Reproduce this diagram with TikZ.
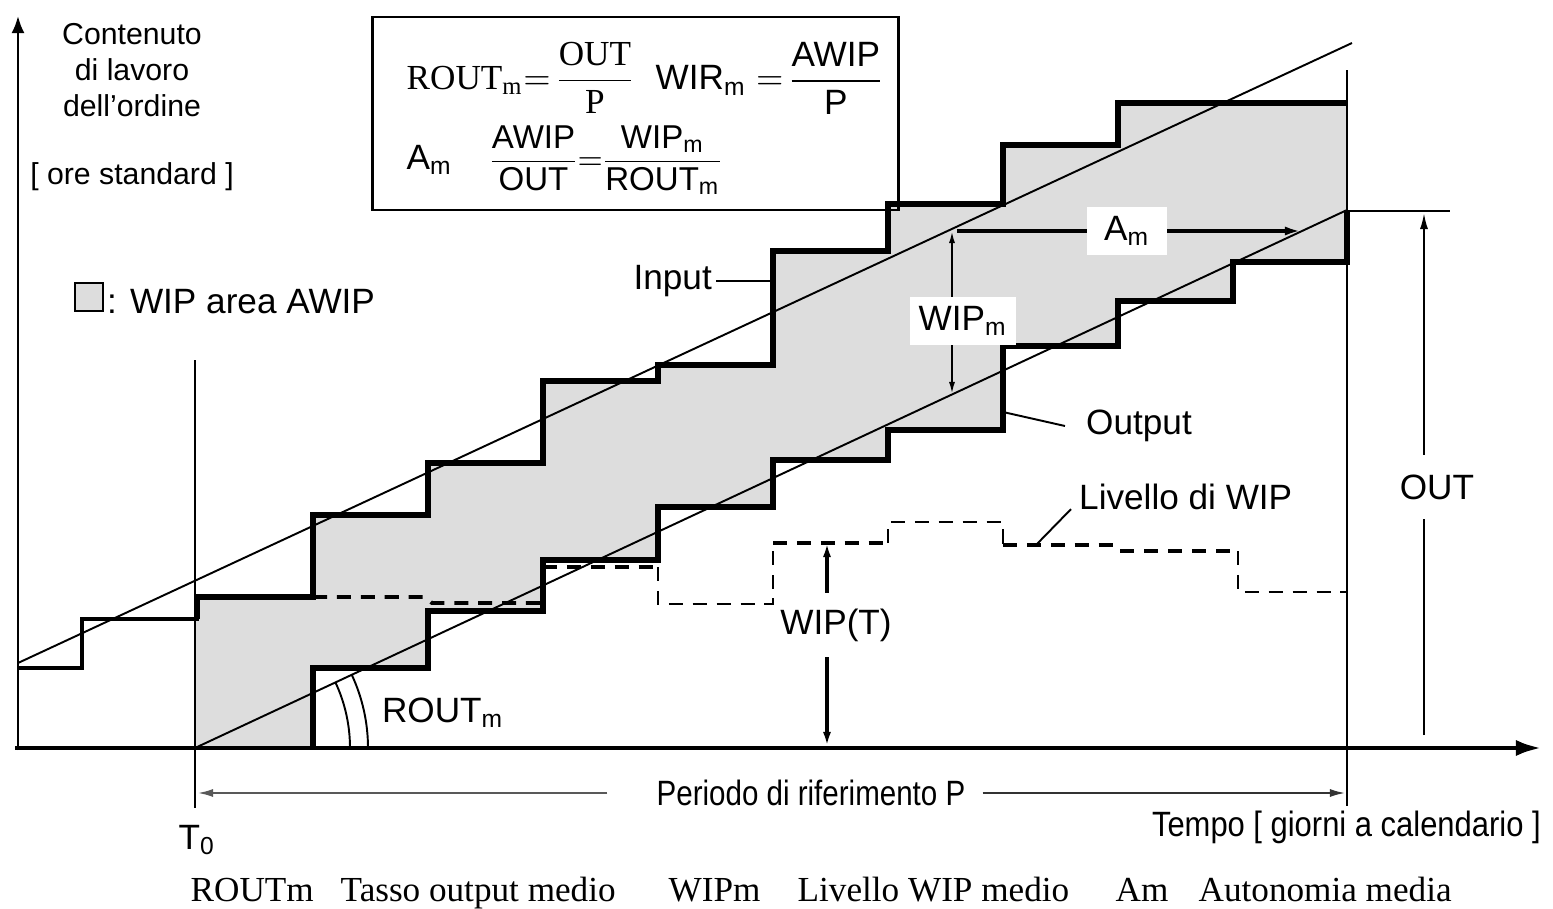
\documentclass[tikz,border=0pt]{standalone}
\usepackage{fontspec}
\usepackage{amsmath}
\setmainfont{Liberation Sans}
\newfontfamily\seriffont{Liberation Serif}
\newfontfamily\narrowfont[FakeStretch=0.84]{Liberation Sans}
\newfontfamily\narrowfontb[FakeStretch=0.88]{Liberation Sans}
\usetikzlibrary{arrows.meta}
\definecolor{wipgray}{RGB}{221,221,221}
\begin{document}
\begin{tikzpicture}[x=0.01cm,y=-0.01cm,
  stair/.style={line width=1.7pt, line join=miter},
  thinline/.style={line width=0.55pt},
  lbl/.style={font=\fontsize{10}{12}\selectfont, inner sep=1pt},
  ylbl/.style={font=\fontsize{8.6}{10.3}\selectfont, inner sep=1pt},
  narrowlbl/.style={font=\narrowfont\fontsize{10}{12}\selectfont, inner sep=1pt},
  seriflbl/.style={font=\seriffont\fontsize{10}{12}\selectfont, inner sep=0pt, anchor=base west},
  dthick/.style={line width=1.1pt, dash pattern=on 4pt off 2.8pt},
  dthin/.style={line width=0.6pt, dash pattern=on 4pt off 2.8pt},
  bothtip/.style={{Latex[length=0.14cm,width=0.08cm]}-{Latex[length=0.14cm,width=0.08cm]}}
]
\useasboundingbox (0,0) rectangle (1553,909);

% WIP area
\fill[wipgray] (195,748) -- (313,748) -- (313,668) -- (428,668) -- (428,611) -- (543,611) -- (543,560) -- (658,560) -- (658,507) -- (773,507) -- (773,460) -- (888,460) -- (888,430) -- (1003,430) -- (1003,346) -- (1118,346) -- (1118,301) -- (1233,301) -- (1233,262) -- (1347,262) -- (1347,103) -- (1118,103) -- (1118,145) -- (1003,145) -- (1003,204) -- (888,204) -- (888,251) -- (773,251) -- (773,365) -- (658,365) -- (658,381) -- (543,381) -- (543,463) -- (428,463) -- (428,515) -- (313,515) -- (313,597) -- (195,597) -- cycle;

% formula box
\node[draw, line width=0.8pt, minimum width=5.25cm, minimum height=1.93cm, inner sep=0pt] (fbox) at (635.5,113.5) {};
\node[anchor=west, font=\seriffont\fontsize{10}{12}\selectfont, inner sep=0pt] (f1) at (406,78) {ROUT\textsubscript{m}$=\!\dfrac{\text{OUT}}{\text{P}}$};
\node[anchor=west, lbl, inner sep=0pt] (f2) at (655,78) {WIR\textsubscript{m}$\;=\!\dfrac{\text{AWIP}}{\text{P}}$};
\node[anchor=west, lbl, inner sep=0pt] (f3) at (406,160) {A\textsubscript{m}};
\node[anchor=west, font=\fontsize{9.4}{11}\selectfont, inner sep=0pt] (f4) at (487,160) {$\dfrac{\text{AWIP}}{\text{OUT}}\!\!=\!\!\dfrac{\text{WIP\textsubscript{m}}}{\text{ROUT\textsubscript{m}}}$};

% mean lines
\draw[thinline] (18,663) -- (1352,43);
\draw[thinline] (195,748) -- (1347,210);

% vertical reference lines
\draw[thinline] (195,360) -- (195,808);
\draw[thinline] (1347,70) -- (1347,806);
\draw[thinline] (1347,211) -- (1450,211);

% WIP level (dashed)
\draw[dthick] (313,597) -- (425,597) -- (432,603) -- (543,603);
\draw[dthick] (543,567) -- (658,567);
\draw[dthin] (658,567) -- (658,604) -- (773,604) -- (773,543);
\draw[dthick] (773,543) -- (888,543);
\draw[dthin] (888,543) -- (888,522) -- (1003,522) -- (1003,545);
\draw[dthick] (1003,545) -- (1113,545) -- (1120,551) -- (1238,551);
\draw[dthin] (1238,551) -- (1238,592) -- (1347,592);

% input staircase
\draw[stair, line width=1.3pt] (18,668) -- (82,668) -- (82,619) -- (197,619) -- (197,605);
\draw[stair] (197,619) -- (197,597) -- (313,597) -- (313,515) -- (428,515) -- (428,463) -- (543,463) -- (543,381) -- (658,381) -- (658,365) -- (773,365) -- (773,251) -- (888,251) -- (888,204) -- (1003,204) -- (1003,145) -- (1118,145) -- (1118,103) -- (1347,103);
% output staircase
\draw[stair] (313,748) -- (313,668) -- (428,668) -- (428,611) -- (543,611) -- (543,560) -- (658,560) -- (658,507) -- (773,507) -- (773,460) -- (888,460) -- (888,430) -- (1003,430) -- (1003,346) -- (1118,346) -- (1118,301) -- (1233,301) -- (1233,262) -- (1347,262) -- (1347,211);

% axes
\draw[line width=0.7pt, -{Latex[length=0.17cm,width=0.13cm]}] (18,750) -- (18,16);
\draw[line width=1.4pt, -{Latex[length=0.26cm,width=0.16cm]}] (15,748) -- (1542,748);

% ROUT angle arcs
\draw[thinline] (350,748) arc[start angle=0, end angle=25, radius=1.55cm];
\draw[thinline] (368,748) arc[start angle=0, end angle=25, radius=1.73cm];
\node[lbl] (rout) at (443,713) {ROUT\textsubscript{m}};

% y axis label
\node[ylbl, align=center] (ylab) at (132,70) {Contenuto\\di lavoro\\dell'ordine};
\node[ylbl] (ore) at (132,177) {[ ore standard ]};

% legend
\node[draw, fill=wipgray, line width=0.6pt, minimum size=0.28cm, inner sep=0pt] (legsq) at (89,297) {};
\node[lbl, anchor=west] (legtxt) at (103,302) {: WIP area AWIP};

% Input / Output / Livello labels
\node[lbl, anchor=east] (inp) at (716,281) {Input};
\coordinate (inpT) at (773,281);
\draw[thinline] (inp.east) -- (inpT);
\node[lbl, anchor=west] (outp) at (1082,426) {Output};
\coordinate (outT) at (1003,412);
\draw[thinline] (outT) -- ([xshift=-0.17cm]outp.west);
\node[lbl, anchor=west] (liv) at (1075,497) {Livello di WIP};
\coordinate (livT) at (1036,545);
\draw[thinline] (livT) -- ([xshift=-0.04cm,yshift=0.05cm]liv.south west);

% WIP_m arrow
\coordinate (wmT) at (952,231);
\coordinate (wmB) at (952,394);
\draw[thinline, {Latex[length=0.12cm,width=0.06cm]}-{Latex[length=0.12cm,width=0.06cm]}] (wmT) -- (wmB);
\node[lbl, fill=white, inner sep=2.5pt] (wipm) at (963,321) {WIP\textsubscript{m}};

% A_m arrow
\coordinate (amL) at (957,231);
\coordinate (amR) at (1301,231);
\draw[line width=1.1pt, -{Latex[length=0.16cm,width=0.09cm]}] (amL) -- (amR);
\node[lbl, fill=white, inner xsep=5pt, inner ysep=2.5pt] (am) at (1127,231) {A\textsubscript{m}};

% WIP(T) arrow
\coordinate (wtT) at (827,543);
\coordinate (wtB) at (827,746);
\draw[line width=1pt, bothtip] (wtT) -- (wtB);
\node[lbl, fill=white, inner xsep=1pt, inner ysep=4.5pt] (wipt) at (836,625) {WIP(T)};

% OUT arrow
\coordinate (oB) at (1424,735);
\coordinate (oT) at (1424,213);
\draw[thinline, -{Latex[length=0.16cm,width=0.08cm]}] (oB) -- (oT);
\node[lbl, fill=white, inner xsep=1pt, inner ysep=5.5pt] (outl) at (1437,487) {OUT};

% period P
\node[narrowlbl] (per) at (811,793) {Periodo di riferimento P};
\coordinate (pL) at (198,793);
\coordinate (pR) at (1345,793);
\draw[line width=0.5pt, gray!70!black, -{Latex[length=0.15cm,width=0.08cm]}] ([xshift=-0.45cm]per.west) -- (pL);
\draw[line width=0.5pt, black!80, -{Latex[length=0.15cm,width=0.08cm]}] ([xshift=0.13cm]per.east) -- (pR);

\node[font=\narrowfontb\fontsize{10}{12}\selectfont, inner sep=1pt, anchor=east] (tempo) at (1545,827) {Tempo [ giorni a calendario ]};
\node[lbl] (t0) at (197,840) {T\textsubscript{0}};

% bottom legend
\node[seriflbl] (l1) at (190,901) {ROUTm};
\node[seriflbl] (l2) at (340,901) {Tasso output medio};
\node[seriflbl] (l3) at (668,901) {WIPm};
\node[seriflbl] (l4) at (797,901) {Livello WIP medio};
\node[seriflbl] (l5) at (1115,901) {Am};
\node[seriflbl] (l6) at (1198,901) {Autonomia media};
\end{tikzpicture}
\end{document}
